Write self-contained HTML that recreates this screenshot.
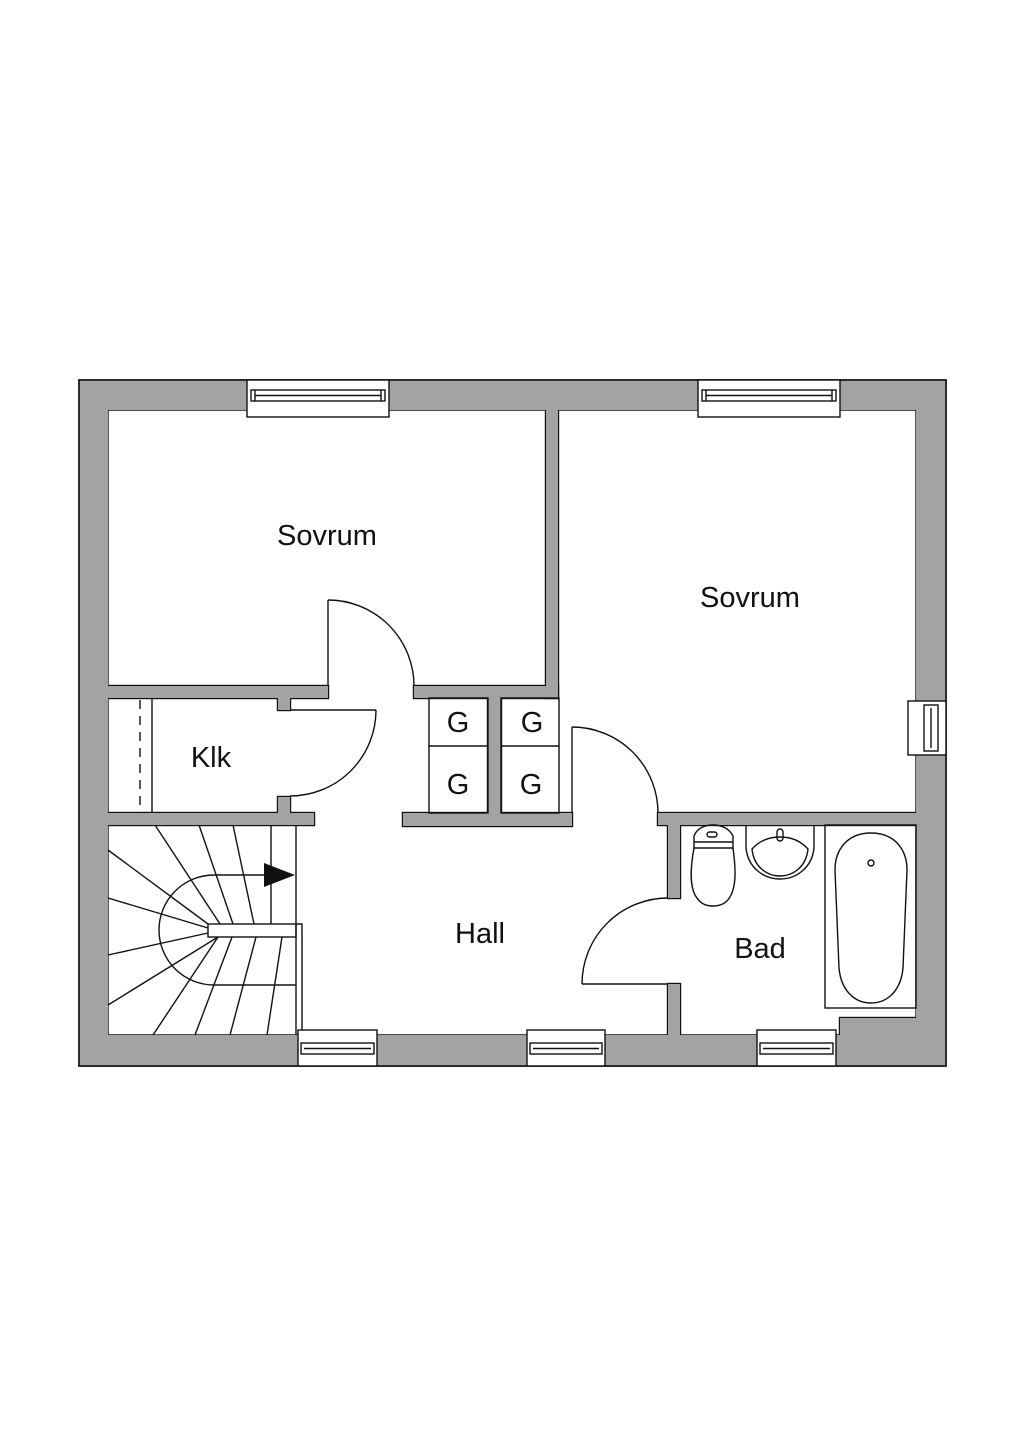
<!DOCTYPE html>
<html><head><meta charset="utf-8"><style>
html,body{margin:0;padding:0;background:#fff;}
svg{display:block;}
text{font-family:"Liberation Sans","DejaVu Sans",sans-serif;fill:#111;}
</style></head><body>
<svg width="1024" height="1448" viewBox="0 0 1024 1448" xmlns="http://www.w3.org/2000/svg">
<rect x="0" y="0" width="1024" height="1448" fill="#fff"/>
<rect x="108" y="410" width="808" height="625" fill="#fff"/>
<path d="M79 380 H946 V1066 H79 Z M108 410 V1035 H916 V410 Z" fill="#a3a3a3" fill-rule="evenodd" stroke="#111" stroke-width="1.4"/>
<g fill="#a3a3a3" stroke="#111" stroke-width="2.4">
<rect x="840" y="1018" width="76" height="17"/>
<rect x="108" y="686" width="220" height="12"/>
<rect x="414" y="686" width="144" height="12"/>
<rect x="546" y="410" width="12" height="288"/>
<rect x="278" y="698" width="12" height="12"/>
<rect x="278" y="797" width="12" height="16"/>
<rect x="108" y="813" width="206" height="12"/>
<rect x="488" y="698" width="13" height="115"/>
<rect x="403" y="813" width="169" height="13"/>
<rect x="658" y="813" width="258" height="12"/>
<rect x="668" y="825" width="12" height="73"/>
<rect x="668" y="984" width="12" height="51"/>
</g>
<path d="M79 380 H946 V1066 H79 Z M108 410 V1035 H916 V410 Z" fill="#a3a3a3" fill-rule="evenodd"/>
<g fill="#a3a3a3" stroke="none">
<rect x="840" y="1018" width="77" height="18"/>
<rect x="107" y="686" width="221" height="12"/>
<rect x="414" y="686" width="144" height="12"/>
<rect x="546" y="409" width="12" height="289"/>
<rect x="278" y="698" width="12" height="12"/>
<rect x="278" y="797" width="12" height="16"/>
<rect x="107" y="813" width="207" height="12"/>
<rect x="488" y="698" width="13" height="115"/>
<rect x="403" y="813" width="169" height="13"/>
<rect x="658" y="813" width="259" height="12"/>
<rect x="668" y="825" width="12" height="73"/>
<rect x="668" y="984" width="12" height="52"/>
</g>
<rect x="79" y="380" width="867" height="686" fill="none" stroke="#111" stroke-width="1.6"/>
<g fill="#fff" stroke="#111" stroke-width="1.4">
<rect x="247" y="380" width="142" height="37"/>
<rect x="251" y="390" width="134" height="11"/>
<line x1="255" y1="395.5" x2="381" y2="395.5"/>
<line x1="255" y1="390" x2="255" y2="401"/><line x1="381" y1="390" x2="381" y2="401"/>
<rect x="698" y="380" width="142" height="37"/>
<rect x="702" y="390" width="134" height="11"/>
<line x1="706" y1="395.5" x2="832" y2="395.5"/>
<line x1="706" y1="390" x2="706" y2="401"/><line x1="832" y1="390" x2="832" y2="401"/>
<rect x="298" y="1030" width="79" height="36"/>
<rect x="301" y="1043" width="73" height="11"/><line x1="304" y1="1048.5" x2="371" y2="1048.5"/>
<rect x="527" y="1030" width="78" height="36"/>
<rect x="530" y="1043" width="72" height="11"/><line x1="533" y1="1048.5" x2="599" y2="1048.5"/>
<rect x="757" y="1030" width="79" height="36"/>
<rect x="760" y="1043" width="73" height="11"/><line x1="763" y1="1048.5" x2="830" y2="1048.5"/>
<rect x="908" y="701" width="38" height="54"/>
<rect x="924" y="705" width="14" height="46"/>
<line x1="931" y1="708" x2="931" y2="748"/>
</g>
<g fill="none" stroke="#111" stroke-width="1.4">
<line x1="328" y1="600" x2="328" y2="686"/>
<path d="M328 600 A86 86 0 0 1 414 686"/>
<line x1="152" y1="698" x2="152" y2="813"/>
<line x1="140" y1="700" x2="140" y2="813" stroke-dasharray="9 7"/>
<line x1="290" y1="710" x2="376" y2="710"/>
<path d="M376 710 A86 86 0 0 1 290 796"/>
<rect x="429" y="698" width="59" height="115"/>
<line x1="429" y1="746" x2="488" y2="746"/>
<rect x="501" y="698" width="58" height="115"/>
<line x1="501" y1="746" x2="559" y2="746"/>
<line x1="572" y1="727" x2="572" y2="813"/>
<path d="M572 727 A86 86 0 0 1 658 813"/>
<line x1="582" y1="984" x2="668" y2="984"/>
<path d="M582 984 A86 86 0 0 1 668 898"/>
<line x1="296" y1="825" x2="296" y2="1035"/>
<line x1="271" y1="825" x2="271" y2="924"/>
<rect x="208" y="924" width="88" height="13"/>
<polyline points="296,924 302,924 302,1030"/>
<path d="M264 875 L214 875 A55 55 0 0 0 214 985 L296 985"/>
<line x1="155" y1="825" x2="220" y2="924"/>
<line x1="199" y1="825" x2="233" y2="924"/>
<line x1="233" y1="825" x2="254" y2="924"/>
<line x1="108" y1="850" x2="208" y2="924"/>
<line x1="108" y1="898" x2="208" y2="928"/>
<line x1="108" y1="955" x2="208" y2="933"/>
<line x1="108" y1="1005" x2="218" y2="937"/>
<line x1="153" y1="1035" x2="218" y2="937"/>
<line x1="195" y1="1035" x2="232" y2="937"/>
<line x1="230" y1="1035" x2="256" y2="937"/>
<line x1="267" y1="1035" x2="282" y2="937"/>
<rect x="825" y="825" width="91" height="183"/>
<path d="M871 833 C895 833 907 850 907 870 L903 968 C901 990 888 1003 871 1003 C854 1003 841 990 839 968 L835 870 C835 850 847 833 871 833 Z"/>
<circle cx="871" cy="863" r="3"/>
<path d="M746 825 L746 848 C748 868 764 879 780 879 C796 879 812 868 814 848 L814 825"/>
<path d="M752 849 C754 868 768 876 780 876 C792 876 806 868 808 849 C800 840 790 837 780 837 C770 837 760 840 752 849 Z"/>
<rect x="777" y="829" width="6" height="12" rx="3"/>
<path d="M694 848 L694 836 C697 828 705 825 713 825 C721 825 729 828 733 836 L733 848 Z"/>
<line x1="694" y1="842" x2="733" y2="842"/>
<rect x="707" y="832" width="10" height="5" rx="2.5"/>
<path d="M694 848 C690 870 690 885 695 895 C700 904 706 906 713 906 C720 906 727 904 731 895 C736 885 736 870 733 848"/>
</g>
<polygon points="264,863 264,887 295,875" fill="#111"/>
<g font-size="29">
<text x="327" y="545" text-anchor="middle">Sovrum</text>
<text x="750" y="607" text-anchor="middle">Sovrum</text>
<text x="211" y="767" text-anchor="middle">Klk</text>
<text x="480" y="943" text-anchor="middle">Hall</text>
<text x="760" y="958" text-anchor="middle">Bad</text>
<text x="458" y="732" text-anchor="middle">G</text>
<text x="532" y="732" text-anchor="middle">G</text>
<text x="458" y="794" text-anchor="middle">G</text>
<text x="531" y="794" text-anchor="middle">G</text>
</g>
</svg>
</body></html>
